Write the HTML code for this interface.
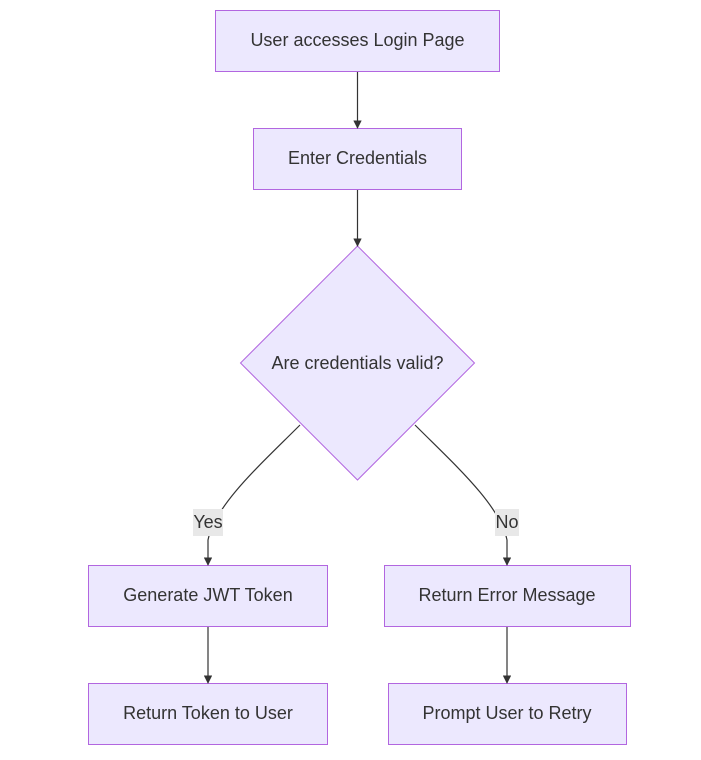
<!DOCTYPE html>
<html><head><style>body{margin:0;background:#fff}</style></head><body>
<svg width="701" height="755" viewBox="0 0 701 755" xmlns="http://www.w3.org/2000/svg" font-family="Liberation Sans, sans-serif" font-size="18" fill="#333">
<defs><marker id="a" viewBox="0 0 10 10" refX="9" refY="5" markerWidth="7" markerHeight="7" orient="auto"><path d="M0,0L10,5L0,10z" fill="#333"/></marker></defs>
<g fill="#ECE8FE" stroke="#B266E0" stroke-width="1">
<rect x="215.5" y="10.5" width="284" height="61"/>
<rect x="253.5" y="128.5" width="208" height="61"/>
<polygon points="357.5,246 474.5,363 357.5,480 240.5,363"/>
<rect x="88.5" y="565.5" width="239" height="61"/>
<rect x="384.5" y="565.5" width="246" height="61"/>
<rect x="88.5" y="683.5" width="239" height="61"/>
<rect x="388.5" y="683.5" width="238" height="61"/>
</g>
<g stroke="#333" stroke-width="1.2" fill="none" marker-end="url(#a)">
<path d="M357.5,72V128"/>
<path d="M357.5,190V246"/>
<path d="M300,425C260,465 215,505 208,540V565"/>
<path d="M415,425C455,465 500,505 507,540V565"/>
<path d="M208,627V683"/>
<path d="M507,627V683"/>
</g>
<rect x="193" y="509" width="30" height="27" fill="#e8e8e8"/>
<rect x="495" y="509" width="24" height="27" fill="#e8e8e8"/>
<g text-anchor="middle">
<text x="357.5" y="46">User accesses Login Page</text>
<text x="357.5" y="164">Enter Credentials</text>
<text x="357.5" y="369">Are credentials valid?</text>
<text x="208" y="528">Yes</text>
<text x="507" y="528">No</text>
<text x="208" y="601">Generate JWT Token</text>
<text x="507" y="601">Return Error Message</text>
<text x="208" y="719">Return Token to User</text>
<text x="507" y="719">Prompt User to Retry</text>
</g>
</svg>
</body></html>
